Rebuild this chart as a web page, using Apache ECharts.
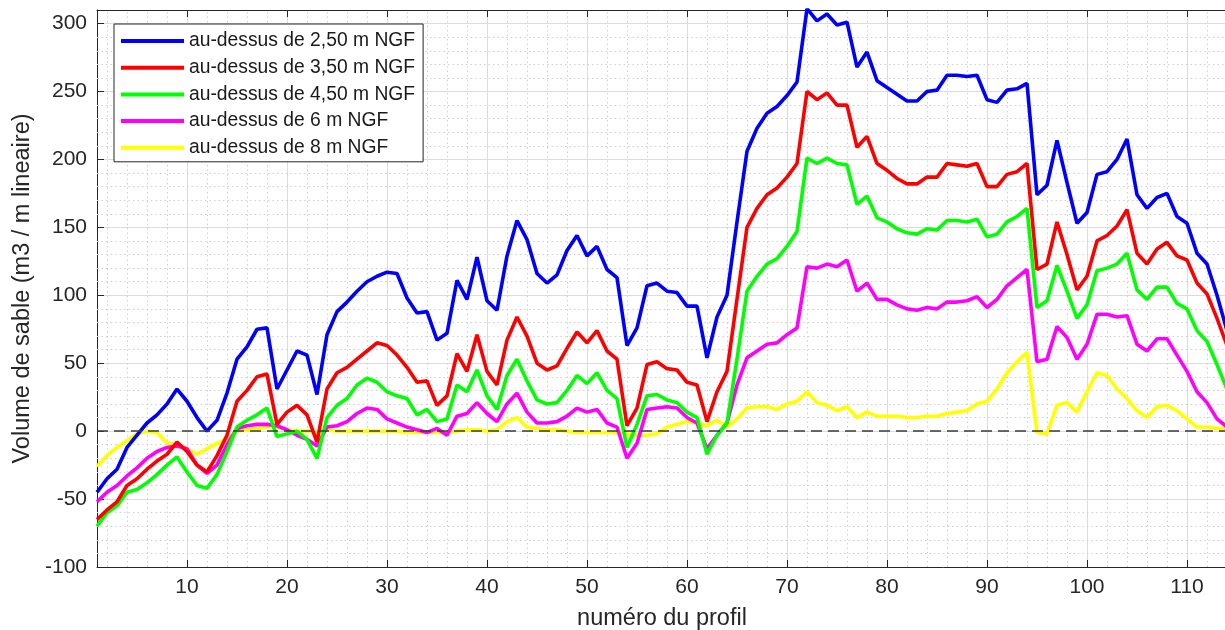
<!DOCTYPE html>
<html>
<head>
<meta charset="utf-8">
<script src="https://cdn.jsdelivr.net/npm/echarts@6/dist/echarts.min.js"></script>
<style>
  html, body { margin: 0; padding: 0; background: #fff; }
  #chart { width: 1225px; height: 630px; }
</style>
</head>
<body>
<div id="chart"></div>
<script>
// valeurs (profils 1 a 114)
const noms = ['au-dessus de 2,50 m NGF', 'au-dessus de 3,50 m NGF', 'au-dessus de 4,50 m NGF', 'au-dessus de 6 m NGF', 'au-dessus de 8 m NGF']
const couleurs = ['#0000ff', '#ff0000', '#00ff00', '#ff00ff', '#ffff00']

const v250 = [-45, -35, -28, -12, -3, 6, 12, 20, 31, 22, 10, 0, 8, 28, 53, 62, 75, 76, 31, 45,
  59, 56, 27, 71, 88, 95, 103, 110, 114, 117, 116, 98, 87, 88, 67, 72, 111, 97, 128, 96,
  89, 129, 155, 141, 116, 109, 115, 133, 144, 129, 136, 119, 113, 63, 76, 107, 109, 103, 102, 92,
  92, 54, 84, 100, 154, 206, 223, 234, 239, 247, 257, 311, 302, 307, 299, 301, 268, 279, 258, 253,
  248, 243, 243, 250, 251, 262, 262, 261, 262, 244, 242, 251, 252, 256, 174, 181, 214, 183, 153, 161,
  189, 191, 200, 215, 174, 164, 172, 175, 158, 153, 131, 123, 100, 74]
const v350 = [-65, -58, -52, -40, -35, -28, -22, -17, -8, -15, -25, -30, -18, -3, 22, 30, 40, 42, 5, 14,
  19, 12, -8, 31, 43, 47, 53, 59, 65, 63, 56, 47, 36, 37, 19, 26, 57, 44, 71, 44,
  34, 67, 84, 70, 50, 45, 48, 61, 73, 65, 74, 59, 53, 4, 17, 49, 51, 46, 45, 36,
  34, 7, 29, 44, 97, 150, 164, 174, 179, 187, 197, 250, 244, 249, 240, 240, 209, 217, 197, 192,
  186, 182, 182, 187, 187, 197, 196, 195, 197, 180, 180, 189, 191, 197, 119, 123, 154, 130, 104, 114,
  140, 144, 151, 163, 131, 123, 134, 139, 129, 126, 109, 101, 83, 63]
const v450 = [-70, -60, -55, -45, -43, -38, -32, -25, -19, -30, -40, -42, -32, -15, 3, 8, 12, 17, -4, -2,
  0, -6, -20, 10, 19, 24, 34, 39, 36, 29, 26, 24, 12, 16, 7, 9, 34, 29, 45, 26,
  16, 41, 53, 37, 23, 20, 21, 30, 41, 35, 43, 30, 24, -12, 5, 26, 27, 23, 21, 14,
  10, -17, -3, 6, 53, 103, 114, 123, 127, 136, 147, 201, 197, 201, 197, 196, 167, 173, 157, 154,
  149, 146, 145, 149, 148, 155, 155, 154, 156, 143, 145, 154, 158, 164, 91, 96, 122, 103, 83, 93,
  118, 120, 123, 131, 104, 97, 106, 106, 94, 90, 74, 66, 49, 31]
const v6 = [-52, -45, -40, -33, -27, -20, -15, -12, -11, -13, -25, -31, -25, -10, 2, 4, 5, 5, 4, 1,
  -3, -6, -11, 3, 4, 7, 13, 17, 16, 9, 6, 3, 1, -1, 2, -3, 11, 13, 21, 13,
  7, 20, 28, 14, 6, 6, 7, 11, 17, 14, 16, 6, 3, -20, -9, 16, 17, 18, 17, 10,
  6, -13, -3, 6, 34, 54, 59, 64, 65, 71, 76, 121, 120, 123, 121, 126, 103, 109, 97, 97,
  93, 90, 89, 91, 90, 95, 95, 96, 99, 91, 97, 107, 113, 119, 51, 53, 77, 69, 53, 64,
  86, 86, 84, 85, 64, 59, 68, 68, 56, 44, 29, 21, 9, 3]
const v8 = [-26, -18, -12, -7, -2, 0, -1, -9, -10, -13, -17, -13, -9, -6, 0, 1, 2, 3, 3, 1,
  0, 0, -1, 1, 0, 0, 0, 0, 0, 0, 0, -1, -1, -1, -1, -1, 0, 1, 1, 0,
  1, 7, 10, 3, 2, 1, 1, 0, -1, -1, -1, -1, -1, -2, -3, -3, -2, 3, 5, 7,
  6, 4, 8, 3, 9, 17, 18, 18, 16, 20, 22, 29, 21, 19, 15, 18, 10, 14, 11, 11,
  11, 10, 10, 11, 11, 13, 14, 15, 20, 22, 31, 43, 51, 58, -1, -2, 19, 21, 14, 29,
  43, 41, 31, 24, 15, 10, 18, 19, 15, 9, 3, 3, 2, 2]

const valeurs = [v250, v350, v450, v6, v8]
const profils = v250.map((_, i) => i + 1)

// grille mineure (pointilles) : tous les 2 profils et tous les 10 m3
const mineurX = []
for (let x = 2; x <= 114; x += 2) if (x % 10) mineurX.push(x)
const mineurY = []
for (let y = -90; y < 310; y += 10) if (y % 50) mineurY.push(y)

const axeCouleur = '#262626'
const police = 'Liberation Sans, Arial, Helvetica, sans-serif'

let chart = echarts.init(document.getElementById('chart'), null, { renderer: 'canvas' })

let series = valeurs.map((vals, s) => ({
  name: noms[s],
  type: 'line',
  data: vals.map((v, i) => [profils[i], v]),
  symbol: 'none',
  z: 5 + (4 - s),
  lineStyle: { width: 3.6, color: couleurs[s] },
  itemStyle: { color: couleurs[s] }
}))

// grille mineure + ligne du zero
series.unshift({
  name: 'grille',
  type: 'line',
  data: [],
  z: 1,
  silent: true,
  markLine: {
    z: 1,
    silent: true,
    symbol: 'none',
    animation: false,
    label: { show: false },
    lineStyle: { type: [1.5, 3], color: '#cfcfcf', width: 1 },
    data: mineurX.map(x => ({ xAxis: x })).concat(mineurY.map(y => ({ yAxis: y })))
  }
})
series.push({
  name: 'zero',
  type: 'line',
  data: [],
  z: 20,
  silent: true,
  markLine: {
    z: 20,
    silent: true,
    symbol: 'none',
    animation: false,
    label: { show: false },
    lineStyle: { type: [11, 6], color: '#3a3a3a', width: 1.5 },
    data: [{ yAxis: 0 }]
  }
})

let option = {
  animation: false,
  backgroundColor: '#fff',
  textStyle: { fontFamily: police },
  grid: { left: 97, right: -2, top: 10, bottom: 63, containLabel: false, outerBoundsMode: 'none' },
  legend: {
    data: noms,
    z: 30,
    orient: 'vertical',
    left: 114,
    top: 24,
    padding: [7, 8, 4, 7],
    itemGap: 6.7,
    itemWidth: 63,
    itemHeight: 4,
    icon: 'rect',
    backgroundColor: '#fff',
    borderColor: axeCouleur,
    borderWidth: 1,
    textStyle: { fontSize: 19.3, color: '#1a1a1a', fontFamily: police, lineHeight: 20 }
  },
  xAxis: [{
    type: 'value',
    min: 1,
    max: 114,
    splitNumber: 12,
    name: 'numéro du profil',
    nameLocation: 'middle',
    nameGap: 40,
    nameTextStyle: { fontSize: 23.5, color: axeCouleur },
    axisLine: { onZero: false, lineStyle: { color: axeCouleur, width: 1 } },
    axisTick: { inside: true, length: 7, lineStyle: { color: axeCouleur } },
    axisLabel: {
      fontSize: 21, color: axeCouleur, margin: 10, showMinLabel: false, showMaxLabel: false,
      formatter: v => (v % 10 === 0 ? String(v) : '')
    },
    splitLine: { show: true, lineStyle: { color: '#dcdcdc', width: 1 } }
  }, {
    type: 'value',
    position: 'top',
    min: 1,
    max: 114,
    splitNumber: 12,
    axisLine: { show: true, onZero: false, lineStyle: { color: axeCouleur, width: 1 } },
    axisTick: { inside: true, length: 7, lineStyle: { color: axeCouleur } },
    axisLabel: { show: false },
    splitLine: { show: false }
  }],
  yAxis: {
    type: 'value',
    min: -100,
    max: 310,
    interval: 50,
    name: 'Volume de sable (m3 / m lineaire)',
    nameLocation: 'middle',
    nameGap: 60,
    nameTextStyle: { fontSize: 23.5, color: axeCouleur },
    axisLine: { show: true, onZero: false, lineStyle: { color: axeCouleur, width: 1 } },
    axisTick: { show: true, inside: true, length: 7, lineStyle: { color: axeCouleur } },
    axisLabel: { fontSize: 21, color: axeCouleur, margin: 10, showMaxLabel: false,
      formatter: v => (v % 50 === 0 ? String(v) : '') },
    splitLine: { show: true, lineStyle: { color: '#dcdcdc', width: 1 } }
  },
  series: series
}

chart.setOption(option)
</script>
</body>
</html>
